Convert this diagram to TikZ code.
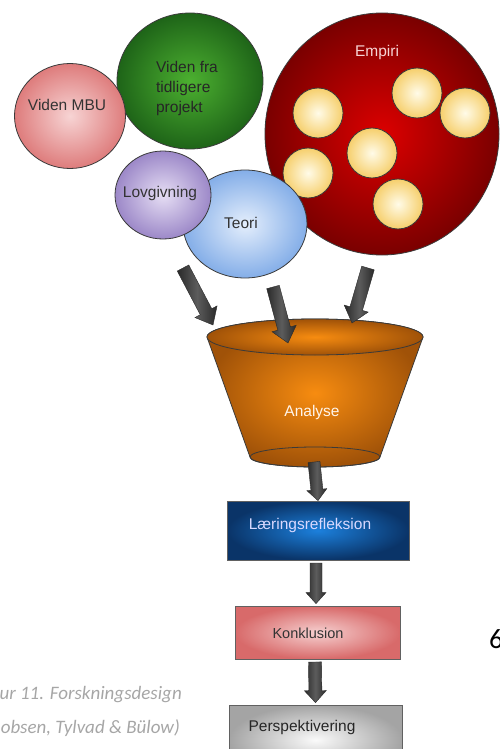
\documentclass[tikz,border=0pt]{standalone}
\usepackage{fontspec}
\setmainfont{Liberation Sans}
\newfontfamily\capfont{Carlito}
\usetikzlibrary{shapes.geometric,calc}
\definecolor{mbuIn}{HTML}{F7D4D4}\definecolor{mbuOut}{HTML}{DE7C7C}
\definecolor{grIn}{HTML}{4CB030}\definecolor{grOut}{HTML}{1E6418}
\definecolor{lovIn}{HTML}{E6DEF4}\definecolor{lovOut}{HTML}{9C88C8}
\definecolor{teoIn}{HTML}{E4EEFC}\definecolor{teoOut}{HTML}{84AEE8}
\definecolor{empIn}{HTML}{DC0000}\definecolor{empOut}{HTML}{7A0000}
\definecolor{yelIn}{HTML}{FFFBE8}\definecolor{yelOut}{HTML}{F6CF6C}
\definecolor{orIn}{HTML}{F78C10}\definecolor{orOut}{HTML}{A05208}
\definecolor{lrIn}{HTML}{1C80DC}\definecolor{lrOut}{HTML}{0A3468}
\definecolor{koIn}{HTML}{F6D0D0}\definecolor{koOut}{HTML}{D86A6A}
\definecolor{peIn}{HTML}{FAFAFA}\definecolor{peOut}{HTML}{A4A4A4}
\definecolor{arDark}{HTML}{2A2A2A}\definecolor{arLight}{HTML}{5C5C5C}
\definecolor{capgray}{HTML}{A6A6A6}
\definecolor{edge}{HTML}{3A3A3A}
\newcommand\blockarrow[5]{%
  \coordinate (bah) at ($(#2)!#5!(#1)$);
  \shade[arrowshade] ($(#1)!#3!90:(#2)$) -- ($(bah)!#3!90:(#2)$) -- ($(bah)!#4!90:(#2)$) -- (#2)
    -- ($(bah)!#4!-90:(#2)$) -- ($(bah)!#3!-90:(#2)$) -- ($(#1)!#3!-90:(#2)$) -- cycle;}
\begin{document}
\begin{tikzpicture}[x=1pt,y=-1pt,
  circ/.style={ellipse, draw=edge, line width=0.8pt, inner sep=0pt},
  lbl/.style={font=\fontsize{15.5}{20}\selectfont, inner sep=0pt},
  boxst/.style={draw=edge!80, line width=0.8pt},
  captext/.style={inner sep=0pt, anchor=base east, text=capgray, font=\capfont\itshape\fontsize{19}{22}\selectfont},
  arrowshade/.style={left color=arDark, right color=arDark, middle color=arLight, draw=arDark, line width=0.4pt}]
\useasboundingbox (0,0) rectangle (500,749);
\clip (0,0) rectangle (500,749);

% Empiri
\node[circ, minimum width=234pt, minimum height=242pt, inner color=empIn, outer color=empOut] (emp) at (382,134) {};
\node[lbl, text=mbuIn] (empt) at (377,52) {Empiri};
\foreach \n/\x/\y in {y1/318/113, y2/417/93, y3/465/113, y4/372/153, y5/308/173, y6/398/204}
  \node[circ, minimum size=50pt, inner color=yelIn, outer color=yelOut] (\n) at (\x,\y) {};

% green
\node[circ, minimum width=146pt, minimum height=136pt, inner color=grIn, outer color=grOut] (gr) at (190,81) {};
\node[lbl, align=left, text=black!85] (grt) at (187,88) {Viden fra\\tidligere\\projekt};
% pink
\node[circ, minimum width=111pt, minimum height=105pt, inner color=mbuIn, outer color=mbuOut] (mbu) at (70,116) {};
\node[lbl, text=black!80] (mbut) at (67,105) {Viden MBU};
% Teori
\node[circ, minimum width=124pt, minimum height=108pt, inner color=teoIn, outer color=teoOut] (teo) at (245,224) {};
\node[lbl, text=black!80] (teot) at (241,223) {Teori};
% Lovgivning
\node[circ, minimum width=96pt, minimum height=88pt, inner color=lovIn, outer color=lovOut] (lov) at (163,195) {};
\node[lbl, text=black!80] (lovt) at (160,193) {Lovgivning};

% funnel
\shade[inner color=orIn, outer color=orOut, draw=edge, line width=0.8pt]
  (207,337) -- (250,457) arc[start angle=180, end angle=0, x radius=65, y radius=10]
  -- (423,337) arc[start angle=0, end angle=-180, x radius=108, y radius=18] -- cycle;
\shade[inner color=orIn, outer color=orOut, draw=edge, line width=0.8pt]
  (315,337) ellipse[x radius=108, y radius=18];
\draw[edge, line width=0.8pt] (315,457) ellipse[x radius=65, y radius=10];
\node[lbl, text=white!92!orange] (an) at (312,412) {Analyse};

% boxes
\node[boxst, minimum width=182pt, minimum height=59pt, inner color=lrIn, outer color=lrOut] (lr) at (318,530.5) {};
\node[lbl, text=white!85!blue] (lrt) at (310,525) {Læringsrefleksion};
\node[boxst, minimum width=165pt, minimum height=53pt, inner color=koIn, outer color=koOut] (ko) at (317.5,632.5) {};
\node[lbl, font=\fontsize{14.5}{18}\selectfont, text=black!80] (kot) at (308,633) {Konklusion};
\node[boxst, minimum width=173pt, minimum height=70pt, inner color=peIn, outer color=peOut] (pe) at (315.5,740) {};
\node[lbl, text=black!85] (pet) at (302,727) {Perspektivering};

% arrows
\coordinate (a1s) at (183,268); \coordinate (a1e) at (213,325);
\coordinate (a2s) at (273,287); \coordinate (a2e) at (288,343);
\coordinate (a3s) at (368,268); \coordinate (a3e) at (352,323);
\coordinate (a4s) at (314,462); \coordinate (a4e) at (lr.north);
\coordinate (a5s) at (316,563); \coordinate (a5e) at ($(ko.north)+(-1.5,-2)$);
\coordinate (a6s) at (315,662); \coordinate (a6e) at ($(pe.north)+(0,-2)$);
\blockarrow{a1s}{a1e}{6.5pt}{12.5pt}{15pt}
\blockarrow{a2s}{a2e}{6.5pt}{12.5pt}{15pt}
\blockarrow{a3s}{a3e}{6.5pt}{12.5pt}{15pt}
\blockarrow{a4s}{a4e}{6pt}{10pt}{11pt}
\blockarrow{a5s}{a5e}{6pt}{10pt}{11pt}
\blockarrow{a6s}{a6e}{6.5pt}{11pt}{12pt}

% caption and page number
\node[captext] (cap1) at (182,699) {ur 11. Forskningsdesign};
\node[captext] (cap2) at (180,733) {obsen, Tylvad \& Bülow)};
\node[inner sep=0pt, anchor=base west, text=black, font=\capfont\fontsize{28}{30}\selectfont] (pg) at (489,648) {6};
\end{tikzpicture}
\end{document}
